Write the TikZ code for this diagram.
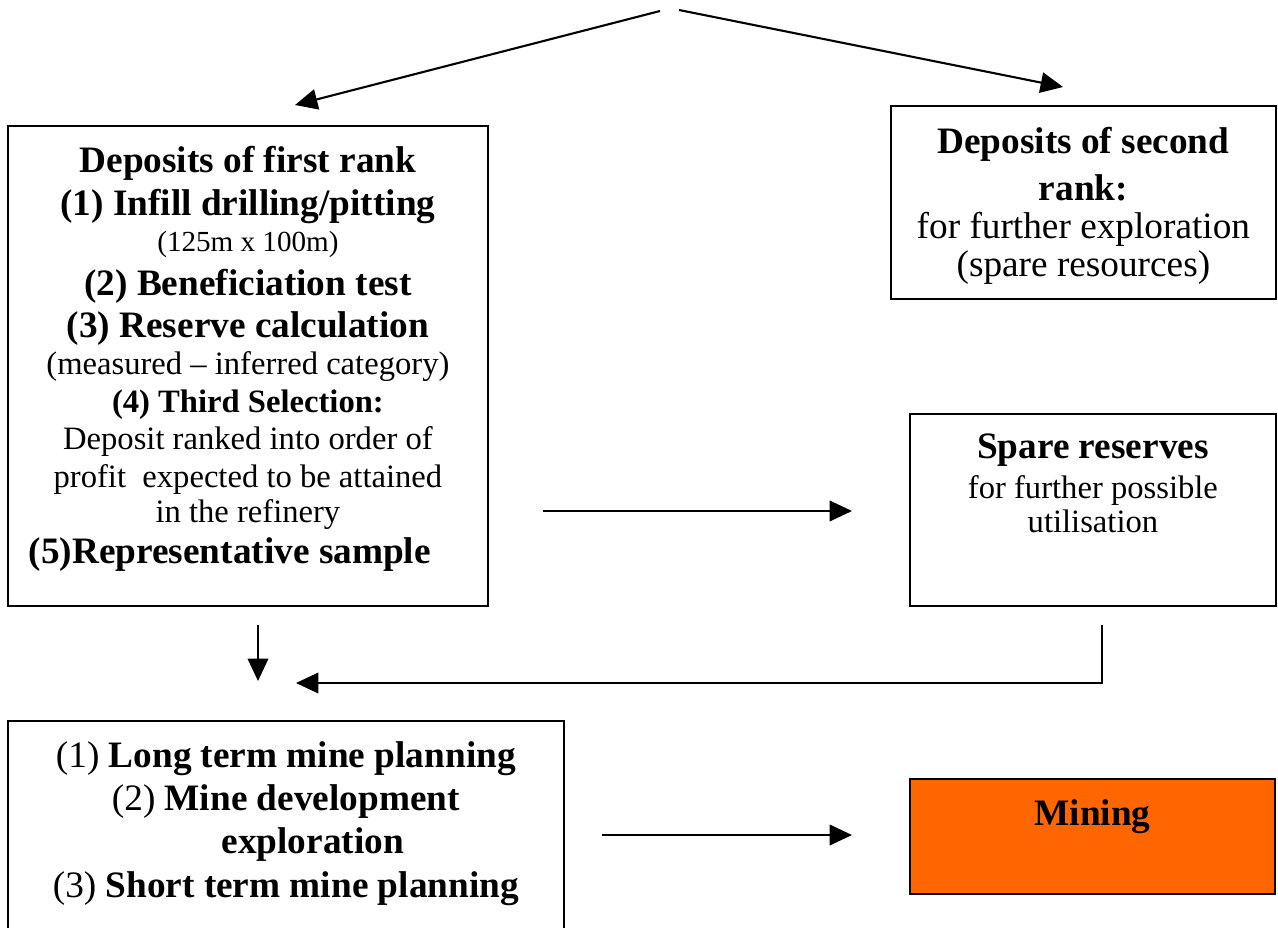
\documentclass[tikz,border=0pt]{standalone}
\usepackage{fontspec}
\setmainfont{Liberation Serif}
\usepackage{tikz}
\usetikzlibrary{arrows.meta,positioning}

\definecolor{miningorange}{HTML}{FF6600}

% line fonts
\newcommand{\bigbold}{\normalfont\fontsize{16}{16}\selectfont\bfseries}
\newcommand{\bigtext}{\normalfont\fontsize{16}{16}\selectfont}
\newcommand{\midbold}{\normalfont\fontsize{14}{16}\selectfont\bfseries}
\newcommand{\midtext}{\normalfont\fontsize{14}{16}\selectfont}
\newcommand{\smalltext}{\normalfont\fontsize{12.5}{16}\selectfont}

\begin{document}
\begin{tikzpicture}[
        x=0.4292pt, y=-0.4292pt,
        frame/.style={draw=black, line width=0.8pt, inner sep=0pt, anchor=north west},
        txt/.style={align=center, inner sep=0pt, anchor=north, font=\fontsize{14}{16}\selectfont},
        arrow/.style={-{Triangle[length=9.6pt,width=8.8pt]}, line width=0.9pt}
    ]
        \useasboundingbox (0,0) rectangle (1278,928);

        % boxes
        \node[frame, minimum width=206pt, minimum height=206pt] (first) at (7,125) {};
        \node[frame, minimum width=165.2pt, minimum height=82.8pt] (second) at (890,105) {};
        \node[frame, minimum width=157.1pt, minimum height=82.4pt] (spare) at (909,413) {};
        \node[frame, minimum width=238.6pt, minimum height=111.6pt] (plan) at (7,720) {};
        \node[frame, fill=miningorange, minimum width=156.7pt, minimum height=49.4pt] (mining) at (909,778) {};

        % texts
        \node[txt, below=9pt of first.north] (first-text) {%
            \bigbold Deposits of first rank\\[2.2pt]
            \bigbold (1) Infill drilling/pitting\\[-0.3pt]
            \smalltext (125m x 100m)\\[2.6pt]
            \bigbold (2) Beneficiation test\\[2.3pt]
            \bigbold (3) Reserve calculation\\[0pt]
            \midtext (measured – inferred category)\\
            \midbold (4) Third Selection:\\[0.2pt]
            \midtext Deposit ranked into order of\\
            \midtext profit\ \ expected to be attained\\[-0.8pt]
            \midtext in the refinery\\[1.4pt]
            \bigbold (5)Representative sample\hspace*{15.5pt}};
        \node[txt, below=9.4pt of second.north] (second-text) {%
            \bigbold Deposits of second\\[4pt]
            \bigbold rank:\\[0.6pt]
            \bigtext for further exploration\\[0.2pt]
            \bigtext (spare resources)};
        \node[txt, below=8.6pt of spare.north] (spare-text) {%
            \bigbold Spare reserves\\[1.2pt]
            \midtext for further possible\\[-1.4pt]
            \midtext utilisation};
        \node[txt, below=9pt of plan.north] (plan-text) {%
            \bigtext (1) \bfseries Long term mine planning\\[2.6pt]
            \bigtext (2) \bfseries Mine development\\[2.4pt]
            \hspace*{23pt}\bigbold exploration\\[2.8pt]
            \bigtext (3) \bfseries Short term mine planning};
        \node[txt, below=9pt of mining.north] (mining-text) {\bigbold Mining};

        % arrow ends
        \coordinate (top-l) at (660,11);
        \coordinate (top-r) at (679,10);
        \coordinate (to-first) at (295,105);
        \coordinate (to-second) at (1063,87);
        \coordinate (mid-from) at (543,511);
        \coordinate (mid-to) at (852,511);
        \coordinate (down-from) at (258,625);
        \coordinate (down-to) at (258,681);
        \coordinate (back-from) at (1102,625);
        \coordinate (back-to) at (296,683);
        \coordinate (bot-from) at (602,835);
        \coordinate (bot-to) at (852,835);

        \draw[arrow] (top-l) -- (to-first);
        \draw[arrow] (top-r) -- (to-second);
        \draw[arrow] (mid-from) -- (mid-to);
        \draw[arrow] (down-from) -- (down-to);
        \draw[arrow] (back-from) |- (back-to);
        \draw[arrow] (bot-from) -- (bot-to);
    \end{tikzpicture}
\end{document}
